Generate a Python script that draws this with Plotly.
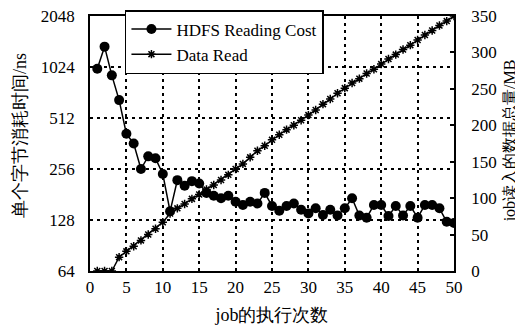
import math
import plotly.graph_objects as go

jobs = list(range(1, 51))
hdfs_cost = [1000, 1350, 914, 653, 413, 362, 256, 304, 296, 239,
             144, 220, 204, 217, 210, 185, 178, 172, 178, 164,
             157, 164, 160, 185, 155, 145, 155, 160, 147, 140,
             150, 137, 147, 136, 150, 172, 136, 132, 157, 157,
             135, 155, 136, 155, 132, 157, 157, 150, 125, 123]
data_read = [0, 0, 0, 19, 27, 34, 42, 50, 58, 67,
             79, 86, 92, 99, 105, 112, 118, 125, 132, 140,
             147, 156, 165, 172, 180, 187, 194, 200, 207, 214,
             221, 229, 236, 244, 251, 258, 264, 271, 277, 284,
             291, 297, 304, 310, 317, 324, 330, 337, 343, 350]

x_ticks = [0, 5, 10, 15, 20, 25, 30, 35, 40, 45, 50]
y_ticks = [64, 128, 256, 512, 1024, 2048]
y2_ticks = [0, 50, 100, 150, 200, 250, 300, 350]

x_title = "job的执行次数"
y_title = "单个字节消耗时间/ns"
y2_title = "job读入的数据总量/MB"

FONT = "Times New Roman, Liberation Serif, DejaVu Serif, serif"

fig = go.Figure()
fig.add_trace(go.Scatter(
    x=jobs, y=hdfs_cost, name="HDFS Reading Cost", mode="lines+markers",
    line=dict(color="black", width=1.5),
    marker=dict(symbol="circle", size=10, color="black"),
    yaxis="y"))
fig.add_trace(go.Scatter(
    x=jobs, y=data_read, name="Data Read", mode="lines+markers",
    line=dict(color="black", width=1.5),
    marker=dict(symbol="asterisk-open", size=7, color="black",
                line=dict(color="black", width=1.5)),
    yaxis="y2"))

# page body has an 8px margin, so the figure is shrunk and shifted to compensate
fig.update_layout(
    width=515, height=319,
    margin=dict(l=82, r=69, t=8, b=56, autoexpand=False),
    paper_bgcolor="white", plot_bgcolor="white",
    font=dict(family=FONT, size=17, color="black"),
    showlegend=True,
    legend=dict(x=0.096, y=1.0235, xanchor="left", yanchor="top",
                bgcolor="white", bordercolor="black", borderwidth=1.5,
                font=dict(size=17, family=FONT), tracegroupgap=0, itemwidth=40),
    xaxis=dict(range=[0, 50], tickvals=x_ticks, showline=True, linecolor="black",
               linewidth=1.5, mirror=True, showgrid=True, gridcolor="black",
               griddash="3px,4px", gridwidth=1.5, ticks="", zeroline=False,
               automargin=False, ticklabeloverflow="allow",
               title=dict(text=x_title, font=dict(size=18, family=FONT), standoff=12),
               tickfont=dict(size=17, family=FONT)),
    yaxis=dict(type="log", range=[math.log10(64), math.log10(2048)],
               tickvals=y_ticks, ticktext=[str(v) for v in y_ticks],
               showline=True, linecolor="black", linewidth=1.5, mirror=False,
               showgrid=True, gridcolor="black", griddash="3px,4px", gridwidth=1.5,
               ticks="", zeroline=False, ticklabelstandoff=10, automargin=False,
               ticklabeloverflow="allow",
               tickfont=dict(size=17, family=FONT)),
    yaxis2=dict(range=[0, 350], tickvals=y2_ticks, overlaying="y", side="right",
                showline=True, linecolor="black", linewidth=1.5,
                showgrid=False, ticks="inside", ticklen=4, tickwidth=1.5,
                tickcolor="black", zeroline=False, ticklabelstandoff=12,
                automargin=False, ticklabeloverflow="allow",
                tickfont=dict(size=17, family=FONT)),
    annotations=[
        dict(text=y_title, textangle=-90, xref="paper", yref="paper",
             x=-0.192, y=0.53, xanchor="center", yanchor="middle", showarrow=False,
             font=dict(size=18, family=FONT)),
        dict(text=y2_title, textangle=-90, xref="paper", yref="paper",
             x=1.155, y=0.51, xanchor="center", yanchor="middle", showarrow=False,
             font=dict(size=16, family=FONT)),
    ],
)

fig.write_html("out.html")
